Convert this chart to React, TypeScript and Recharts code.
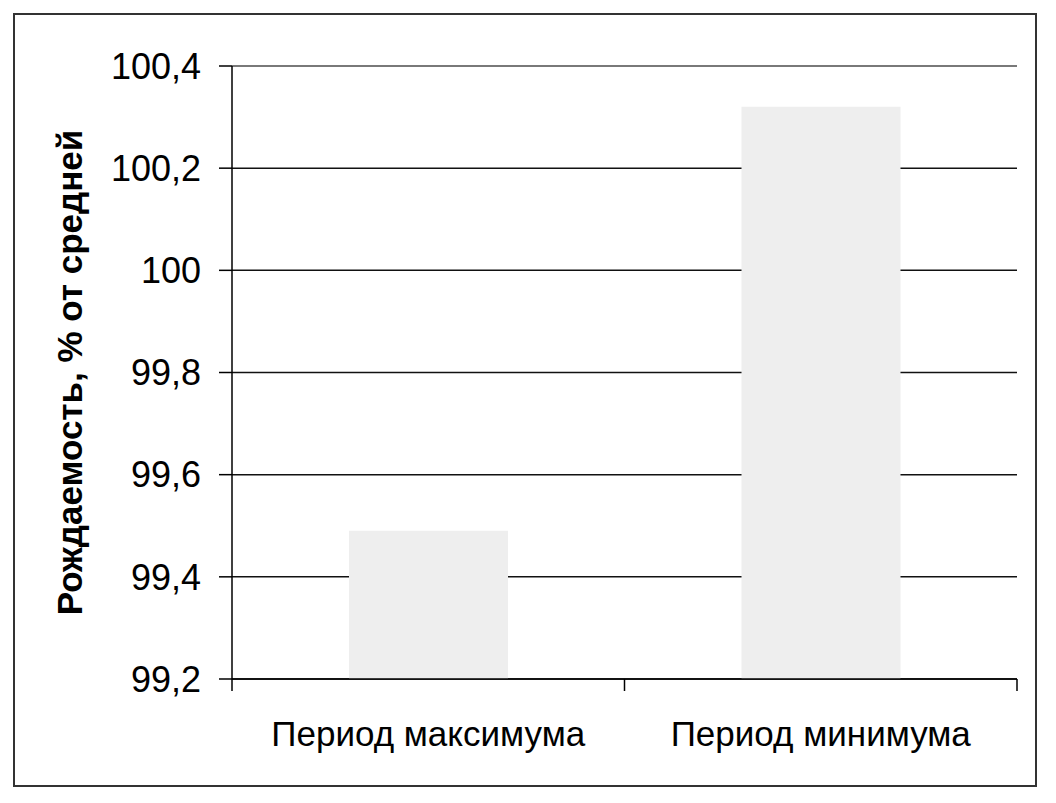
import React from 'react';
import {
  BarChart,
  Bar,
  XAxis,
  YAxis,
  CartesianGrid,
  ReferenceLine,
  Label
} from 'recharts';

// categories and values
const periods = ['Период максимума', 'Период минимума'];
const birthRate = [99.49, 100.32];
const yTicks = [99.2, 99.4, 99.6, 99.8, 100, 100.2, 100.4];

const data = periods.map((name, i) => ({ name, value: birthRate[i] }));

const fmt = (v: number) => String(Number(v.toFixed(1))).replace('.', ',');

// category label plus tick marks on the category boundaries (Excel style)
const CategoryTick = (props: any) => {
  const { x, y, payload, index, visibleTicksCount } = props;
  const half = payload.offset || 0;
  const last = index === visibleTicksCount - 1;
  return (
    <g>
      <line x1={x - half} x2={x - half} y1={y} y2={y + 12} stroke="#000" strokeWidth={1.5} />
      {last && <line x1={x + half} x2={x + half} y1={y} y2={y + 12} stroke="#000" strokeWidth={1.5} />}
      <text x={x} y={y + 42} dy="0.71em" textAnchor="middle" fill="#000" fontSize={35}>
        {payload.value}
      </text>
    </g>
  );
};

export default function App() {
  return (
    <div style={{ position: 'absolute', left: 0, top: 0, width: 1056, height: 803, background: '#fff', fontFamily: '"Liberation Sans", Arial, sans-serif' }}>
      <div style={{ position: 'absolute', left: 13, top: 13, width: 1020, height: 770, border: '2px solid #333' }} />
      <div style={{ position: 'absolute', left: 0, top: 0 }}>
        <BarChart
          width={1056}
          height={803}
          data={data}
          margin={{ top: 66, right: 39, left: 0, bottom: 0 }}
        >
          <CartesianGrid horizontal vertical={false} stroke="#111" strokeWidth={1.5} />
          <XAxis
            dataKey="name"
            axisLine={{ stroke: '#000', strokeWidth: 1.5 }}
            tickLine={false}
            tickSize={0}
            tickMargin={0}
            height={124}
            interval={0}
            tick={<CategoryTick />}
          />
          <YAxis
            domain={[99.2, 100.4]}
            ticks={yTicks}
            tickFormatter={fmt}
            width={232}
            allowDataOverflow
            axisLine={{ stroke: '#000', strokeWidth: 1.5 }}
            tickLine={{ stroke: '#000', strokeWidth: 1.5 }}
            tickSize={13}
            tickMargin={18}
            tick={{ fill: '#000', fontSize: 36 }}
          >
            <Label
              value="Рождаемость, % от средней"
              angle={-90}
              position="center"
              dx={-46}
              style={{ fill: '#000', fontSize: 35, fontWeight: 'bold' }}
            />
          </YAxis>
          <YAxis
            yAxisId="frame"
            orientation="right"
            width={0}
            tick={false}
            tickLine={false}
            axisLine={{ stroke: '#888', strokeWidth: 1.5 }}
          />
          <ReferenceLine y={100.4} stroke="#888" strokeWidth={1.5} />
          <Bar dataKey="value" fill="#eeeeee" barSize={159} isAnimationActive={false} />
        </BarChart>
      </div>
    </div>
  );
}
